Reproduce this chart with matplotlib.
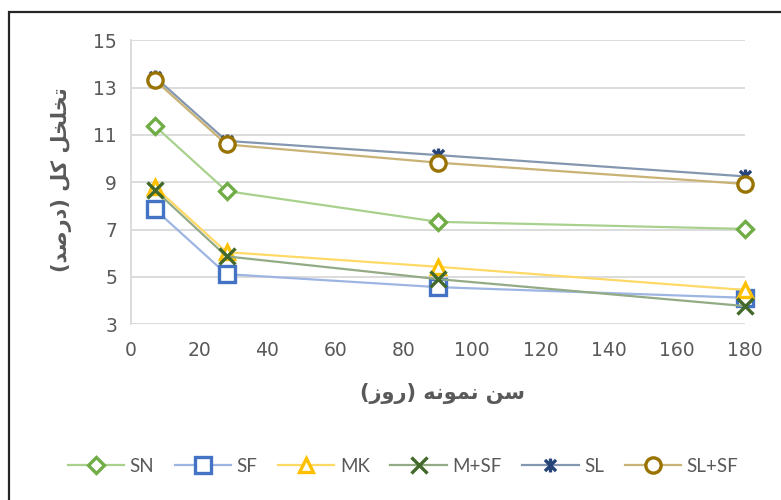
import numpy as np
import matplotlib.pyplot as plt
from matplotlib.path import Path
from matplotlib.patches import Rectangle

# sample age (days) and total porosity (%)
days = [7, 28, 90, 180]
sn = [11.38, 8.63, 7.33, 7.03]
sf = [7.86, 5.12, 4.57, 4.12]
mk = [8.8, 6.05, 5.43, 4.45]
m_sf = [8.67, 5.87, 4.91, 3.77]
sl = [13.45, 10.75, 10.15, 9.25]
sl_sf = [13.32, 10.6, 9.83, 8.93]

series_names = ['SN', 'SF', 'MK', 'M+SF', 'SL', 'SL+SF']
x_title = 'سن نمونه (روز)'
y_title = 'تخلخل کل (درصد)'


# --- minimal Arabic/Persian shaping (matplotlib has no RTL support) ---
FORMS = {
    # char: (isolated, final, initial, medial) ; None -> does not join forward
    'س': ('\uFEB1', '\uFEB2', '\uFEB3', '\uFEB4'),
    'ن': ('\uFEE5', '\uFEE6', '\uFEE7', '\uFEE8'),
    'م': ('\uFEE1', '\uFEE2', '\uFEE3', '\uFEE4'),
    'ه': ('\uFEE9', '\uFEEA', '\uFEEB', '\uFEEC'),
    'ت': ('\uFE95', '\uFE96', '\uFE97', '\uFE98'),
    'خ': ('\uFEA5', '\uFEA6', '\uFEA7', '\uFEA8'),
    'ل': ('\uFEDD', '\uFEDE', '\uFEDF', '\uFEE0'),
    'ک': ('\uFB8E', '\uFB8F', '\uFB90', '\uFB91'),
    'ص': ('\uFEB9', '\uFEBA', '\uFEBB', '\uFEBC'),
    'و': ('\uFEED', '\uFEEE', None, None),
    'ر': ('\uFEAD', '\uFEAE', None, None),
    'ز': ('\uFEAF', '\uFEB0', None, None),
    'د': ('\uFEA9', '\uFEAA', None, None),
}
MIRROR = {'(': ')', ')': '('}


def shape(text):
    out = []
    for i, ch in enumerate(text):
        if ch not in FORMS:
            out.append(MIRROR.get(ch, ch))
            continue
        prev = text[i - 1] if i > 0 else ''
        nxt = text[i + 1] if i + 1 < len(text) else ''
        join_prev = prev in FORMS and FORMS[prev][2] is not None
        join_next = FORMS[ch][2] is not None and nxt in FORMS
        iso, fin, ini, med = FORMS[ch]
        if join_prev and join_next:
            out.append(med)
        elif join_prev:
            out.append(fin)
        elif join_next:
            out.append(ini)
        else:
            out.append(iso)
    return ''.join(out[::-1])


def run():
    fig = plt.figure(figsize=(7.81, 5.0), dpi=100)
    ax = fig.add_axes([131 / 781, 1 - 324.3 / 500, (745 - 131) / 781, (324.3 - 40.3) / 500])
    plt.rcParams['font.family'] = ['Lato', 'DejaVu Sans']
    grey = '#595959'

    star = Path([(0, -1), (0, 1), (-0.8, -0.8), (0.8, 0.8), (-0.8, 0.8), (0.8, -0.8)],
                [Path.MOVETO, Path.LINETO] * 3)

    data = [sn, sf, mk, m_sf, sl, sl_sf]
    line_colors = ['#a9d18e', '#9db5e2', '#ffd966', '#93ab85', '#8497b0', '#c9b275']
    mark_colors = ['#70ad47', '#4472c4', '#ffc000', '#43682b', '#264478', '#997300']
    markers = ['D', 's', '^', 'x', star, 'o']
    sizes = [8, 11, 10, 11, 10, 11]

    for i in range(len(data)):
        face = 'none' if markers[i] in ('x',) or markers[i] is star else 'white'
        ax.plot(days, data[i], color=line_colors[i], lw=1.6, marker=markers[i],
                markersize=sizes[i], markerfacecolor=face, markeredgecolor=mark_colors[i],
                markeredgewidth=2.4, label=series_names[i], zorder=3 + i, clip_on=False)

    ax.set_xlim(0, 180)
    ax.set_ylim(3, 15)
    ax.set_xticks(np.arange(0, 181, 20))
    ax.set_yticks(np.arange(3, 16, 2))
    ax.grid(axis='y', color='#d9d9d9', lw=1.3)
    ax.set_axisbelow(True)
    for s in ['top', 'right', 'bottom']:
        ax.spines[s].set_visible(False)
    ax.spines['left'].set_color('#d9d9d9')
    ax.spines['left'].set_linewidth(1.3)
    ax.tick_params(length=0, labelsize=13.5, labelcolor=grey, pad=10)
    ax.tick_params(axis='x', pad=12)

    fig.text(442 / 781, 1 - 393 / 500, shape(x_title), ha='center', va='center',
             fontsize=15, fontweight='bold', color=grey, family=['DejaVu Sans'])
    fig.text(62 / 781, 1 - 180 / 500, shape(y_title), ha='center', va='center', rotation=90,
             fontsize=15, fontweight='bold', color=grey, family=['DejaVu Sans'])

    fig.legend(loc='center', bbox_to_anchor=(0.516, 1 - 466 / 500), ncol=6, frameon=False,
               fontsize=13.5, labelcolor=grey, handlelength=3.0, handletextpad=0.3,
               columnspacing=1.1)

    fig.patches.append(Rectangle((9 / 781, -0.1), 1.2, 1.1 - 12 / 500, transform=fig.transFigure,
                                 fill=False, edgecolor='#262626', lw=1.6, clip_on=False))
    plt.savefig('out.png', dpi=100)


if __name__ == '__main__':
    run()
